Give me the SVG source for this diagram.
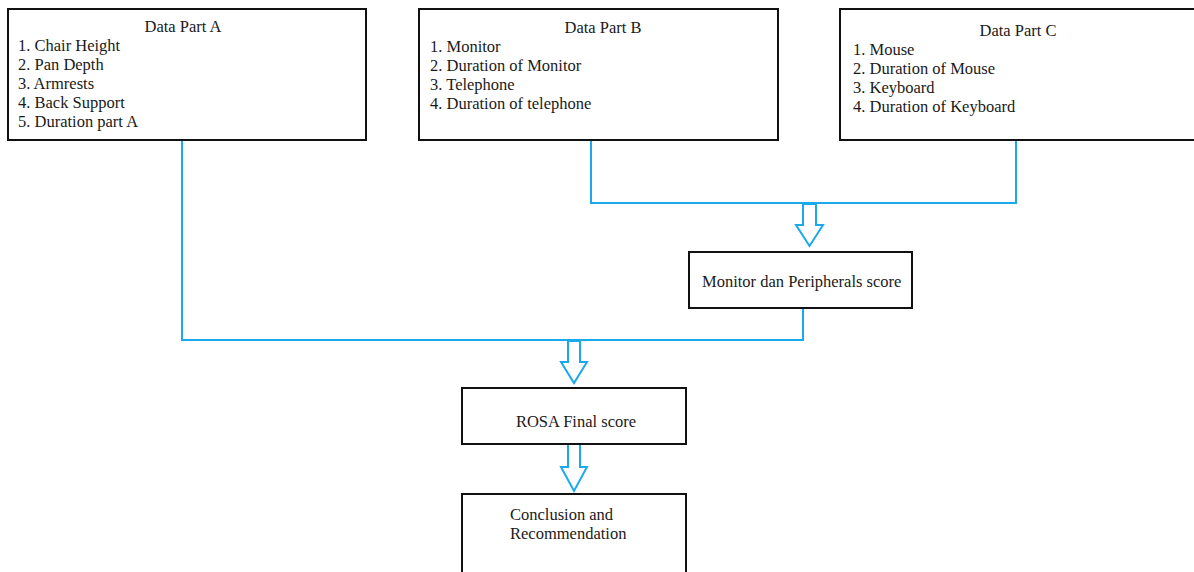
<svg xmlns="http://www.w3.org/2000/svg" width="1194" height="572" viewBox="0 0 1194 572">
<style>
.box{fill:#fff;stroke:#111;stroke-width:2}
.t{font-family:"Liberation Serif","Times New Roman",serif;font-size:16.5px;fill:#1a1a1a}
.c{text-anchor:middle}
.ln{fill:none;stroke:#1aa9ec;stroke-width:2}
.ar{fill:#fff;stroke:#1aa9ec;stroke-width:2;stroke-linejoin:miter}
</style>
<rect width="1194" height="572" fill="#fff"/>
<g id="connectors">
<polyline class="ln" points="182,140 182,340 803,340 803,308"/>
<polyline class="ln" points="591,140 591,203 1016,203 1016,140"/>
<polygon id="arrow1" class="ar" points="803,204 816,204 816,225 823,225 809.5,246 796,225 803,225"/>
<polygon id="arrow2" class="ar" points="568,341 580,341 580,362 587,362 574,383 561,362 568,362"/>
<polygon id="arrow3" class="ar" points="568,444 580,444 580,467 587,467 574,491 561,467 568,467"/>
</g>
<g id="dataA">
<rect class="box" x="8" y="9" width="358" height="131"/>
<text class="t c" x="183" y="32">Data Part A</text>
<text class="t" x="18" y="51">1. Chair Height</text>
<text class="t" x="18" y="70">2. Pan Depth</text>
<text class="t" x="18" y="89">3. Armrests</text>
<text class="t" x="18" y="108">4. Back Support</text>
<text class="t" x="18" y="127">5. Duration part A</text>
</g>
<g id="dataB">
<rect class="box" x="419" y="9" width="359" height="131"/>
<text class="t c" x="603" y="33">Data Part B</text>
<text class="t" x="430" y="52">1. Monitor</text>
<text class="t" x="430" y="71">2. Duration of Monitor</text>
<text class="t" x="430" y="90">3. Telephone</text>
<text class="t" x="430" y="109">4. Duration of telephone</text>
</g>
<g id="dataC">
<rect class="box" x="840" y="9" width="356" height="131"/>
<text class="t c" x="1018" y="36">Data Part C</text>
<text class="t" x="853" y="55">1. Mouse</text>
<text class="t" x="853" y="74">2. Duration of Mouse</text>
<text class="t" x="853" y="93">3. Keyboard</text>
<text class="t" x="853" y="112">4. Duration of Keyboard</text>
</g>
<g id="monitor">
<rect class="box" x="689" y="252" width="223" height="56"/>
<text class="t" x="702" y="287">Monitor dan Peripherals score</text>
</g>
<g id="rosa">
<rect class="box" x="462" y="388" width="224" height="56"/>
<text class="t c" x="576" y="427">ROSA Final score</text>
</g>
<g id="conclusion">
<rect class="box" x="462" y="494" width="224" height="90"/>
<text class="t" x="510" y="520">Conclusion and</text>
<text class="t" x="510" y="539">Recommendation</text>
</g>
</svg>
